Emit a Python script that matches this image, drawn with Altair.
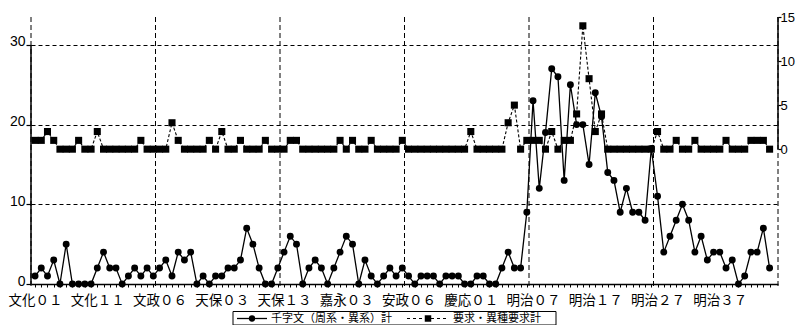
import altair as alt
import pandas as pd

# ---- data ----
LABELS = ["文化０１", "文化１１", "文政０６", "天保０３", "天保１３", "嘉永０３",
          "安政０６", "慶応０１", "明治０７", "明治１７", "明治２７", "明治３７"]

SENJIMON = [1, 2, 1, 3, 0, 5, 0, 0, 0, 0,
            2, 4, 2, 2, 0, 1, 2, 1, 2, 1,
            2, 3, 1, 4, 3, 4, 0, 1, 0, 1,
            1, 2, 2, 3, 7, 5, 2, 0, 0, 2,
            4, 6, 5, 0, 2, 3, 2, 0, 2, 4,
            6, 5, 0, 3, 1, 0, 1, 2, 1, 2,
            1, 0, 1, 1, 1, 0, 1, 1, 1, 0,
            0, 1, 1, 0, 0, 2, 4, 2, 2, 9,
            23, 12, 19, 27, 26, 13, 25, 20, 20, 15,
            24, 21, 14, 13, 9, 12, 9, 9, 8, 17,
            11, 4, 6, 8, 10, 8, 4, 6, 3, 4,
            4, 2, 3, 0, 1, 4, 4, 7, 2]

YOKYU = [1, 1, 2, 1, 0, 0, 0, 1, 0, 0,
         2, 0, 0, 0, 0, 0, 0, 1, 0, 0,
         0, 0, 3, 1, 0, 0, 0, 0, 1, 0,
         2, 0, 0, 1, 0, 0, 0, 1, 0, 0,
         0, 1, 1, 0, 0, 0, 0, 0, 0, 1,
         0, 1, 0, 0, 1, 0, 0, 0, 0, 1,
         0, 0, 0, 0, 0, 0, 0, 0, 0, 0,
         2, 0, 0, 0, 0, 0, 3, 5, 0, 1,
         1, 1, 0, 2, 0, 1, 1, 4, 14, 8,
         2, 4, 0, 0, 0, 0, 0, 0, 0, 0,
         2, 0, 0, 1, 0, 0, 1, 0, 0, 0,
         0, 1, 0, 0, 0, 1, 1, 1, 0]

SERIES = ["千字文（周系・異系）計", "要求・異種要求計"]
LEFT_TICKS = [0, 10, 20, 30]
RIGHT_TICKS = [0, 5, 10, 15]
VGRID = [0, 20, 40, 60, 80, 100, 120]
N_CAT = 120

# ---- layout ----
W, H = 747, 267
OFF = 0.65
LEFT_DOMAIN = [0, 33.5]
RIGHT_DOMAIN = [-15.3, 15]
CJK = "Noto Sans CJK JP"
NUM = "Liberation Sans"

df = pd.DataFrame({"i": list(range(len(SENJIMON))), "a": SENJIMON, "b": YOKYU})
df["x"] = df["i"] + OFF

label_js = "[" + ",".join("'%s'" % s for s in LABELS) + "]"
x_axis = alt.Axis(
    values=[i + OFF for i in range(N_CAT - 1)],
    labelExpr=f"(round(datum.value - {OFF}) % 10 == 0) ? {label_js}[round(datum.value - {OFF}) / 10] : ''",
    labelOverlap=False, labelFlush=False, grid=False,
    domain=True, domainColor="black", domainWidth=1.4,
    ticks=True, tickColor="black", tickSize=3, tickWidth=1,
    labelFont=CJK, labelFontSize=13.5, labelColor="black", labelPadding=6,
    title=None,
)
x_scale = alt.Scale(domain=[0, N_CAT], nice=False, zero=False)

yl_scale = alt.Scale(domain=LEFT_DOMAIN, nice=False, zero=False)
yl_axis = alt.Axis(
    orient="left", values=LEFT_TICKS, grid=True, gridDash=[4, 3], gridColor="black",
    gridWidth=1, domain=False, tickColor="black", tickSize=5, tickWidth=1.2,
    labelFont=NUM, labelFontSize=14, labelColor="black", labelPadding=1,
    labelOffset=-3, title=None,
)
yr_scale = alt.Scale(domain=RIGHT_DOMAIN, nice=False, zero=False)
yr_axis = alt.Axis(
    orient="right", values=RIGHT_TICKS, grid=False, domain=False,
    tickColor="black", tickSize=3, tickWidth=1.2,
    labelFont=NUM, labelFontSize=13, labelColor="black", labelPadding=-1, title=None,
)

def X(field):
    return alt.X(field, type="quantitative", scale=x_scale, axis=x_axis)

# ---- left group ----
vgrid = alt.Chart(pd.DataFrame({"v": VGRID})).mark_rule(
    color="black", strokeDash=[5, 3], strokeWidth=1
).encode(x=X("v"), y=alt.value(0), y2=alt.value(H + 4))

left_axis_line = alt.Chart(pd.DataFrame({"v": [0], "lo": [LEFT_TICKS[0]], "hi": [LEFT_TICKS[-1]]})).mark_rule(
    color="black", strokeWidth=1.5
).encode(x=X("v"), y=alt.Y("lo:Q", scale=yl_scale, axis=yl_axis), y2="hi:Q")

a_line = alt.Chart(df).mark_line(color="black", strokeWidth=1.3).encode(
    x=X("x"), y=alt.Y("a:Q", scale=yl_scale, axis=yl_axis)
)
a_pts = alt.Chart(df).mark_point(shape="circle", filled=True, size=48, color="black", opacity=1).encode(
    x=X("x"), y=alt.Y("a:Q", scale=yl_scale, axis=yl_axis)
)

# legend (drawn in pixel space below the plot)
LEG_Y = 301.5
leg_df = pd.DataFrame({"t": [SERIES[0]], "u": [SERIES[1]]})
leg_box = alt.Chart(leg_df).mark_rect(fillOpacity=0, stroke="black", strokeWidth=1).encode(
    x=alt.value(202), x2=alt.value(525), y=alt.value(294.5), y2=alt.value(308)
)
leg_l1 = alt.Chart(leg_df).mark_rule(color="black", strokeWidth=1.3).encode(
    x=alt.value(206), x2=alt.value(236), y=alt.value(LEG_Y)
)
leg_p1 = alt.Chart(leg_df).mark_point(shape="circle", filled=True, size=40, color="black", opacity=1).encode(
    x=alt.value(221), y=alt.value(LEG_Y)
)
leg_t1 = alt.Chart(leg_df).mark_text(align="left", baseline="middle", font=CJK, fontSize=11, color="black").encode(
    x=alt.value(240), y=alt.value(LEG_Y), text="t:N"
)
leg_l2 = alt.Chart(leg_df).mark_rule(color="black", strokeWidth=1, strokeDash=[3, 3]).encode(
    x=alt.value(376), x2=alt.value(418), y=alt.value(LEG_Y)
)
leg_p2 = alt.Chart(leg_df).mark_point(shape="square", filled=True, size=42, color="black", opacity=1).encode(
    x=alt.value(397), y=alt.value(LEG_Y)
)
leg_t2 = alt.Chart(leg_df).mark_text(align="left", baseline="middle", font=CJK, fontSize=11, color="black").encode(
    x=alt.value(422), y=alt.value(LEG_Y), text="u:N"
)

left = alt.layer(vgrid, left_axis_line, a_line, a_pts,
                 leg_box, leg_l1, leg_p1, leg_t1, leg_l2, leg_p2, leg_t2)

# ---- right group ----
right_axis_line = alt.Chart(pd.DataFrame({"v": [N_CAT], "lo": [RIGHT_TICKS[0]], "hi": [RIGHT_TICKS[-1]]})).mark_rule(
    color="black", strokeWidth=1.5
).encode(x=X("v"), y=alt.Y("lo:Q", scale=yr_scale, axis=yr_axis), y2="hi:Q")

b_line = alt.Chart(df).mark_line(color="black", strokeWidth=1.1, strokeDash=[3, 2]).encode(
    x=X("x"), y=alt.Y("b:Q", scale=yr_scale, axis=yr_axis)
)
b_pts = alt.Chart(df).mark_point(shape="square", filled=True, size=50, color="black", opacity=1).encode(
    x=X("x"), y=alt.Y("b:Q", scale=yr_scale, axis=yr_axis)
)

right = alt.layer(right_axis_line, b_line, b_pts)

chart = alt.layer(left, right).resolve_scale(y="independent").properties(
    width=W, height=H,
    autosize=alt.AutoSizeParams(type="none"),
    padding={"left": 23, "top": 9, "right": 17, "bottom": 41},
    background="white",
).configure_view(stroke=None)

chart.save("out.html", embed_options={"renderer": "svg", "actions": False})
